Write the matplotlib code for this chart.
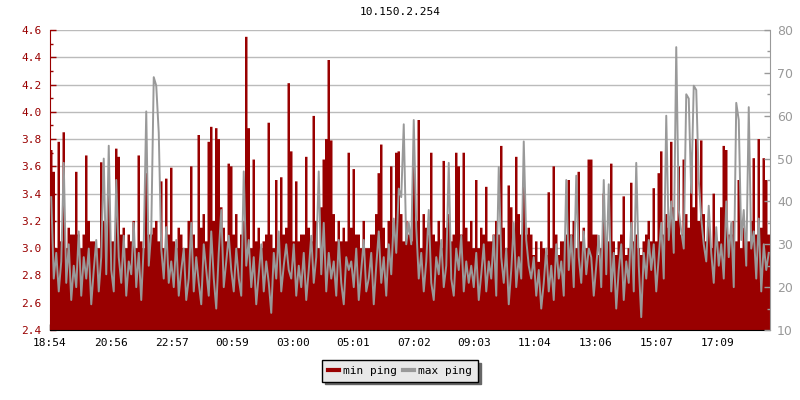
import numpy as np
import matplotlib
matplotlib.use("Agg")
import matplotlib.pyplot as plt

TITLE = "10.150.2.254"
STEP_MIN = 5          # one sample every 5 minutes, 24 h shown
SPAN_MIN = 1440

# min ping (ms, left axis) -- one row per ~2 h block
min_ping = [
    3.72, 3.56, 3.00, 3.78, 3.05, 3.85, 3.00, 3.15, 3.10, 3.10, 3.56, 3.10,
    3.00, 3.10, 3.68, 3.20, 3.05, 3.05, 3.00, 3.00, 3.63, 3.20, 3.10, 3.45,
    3.05, 3.05, 3.73, 3.67, 3.10, 3.15, 3.00, 3.10, 3.05, 3.20, 3.00, 3.68,
    3.05, 3.00, 3.55, 3.10, 3.10, 3.15, 3.20, 3.05, 3.49, 3.00, 3.51, 3.10,
    3.59, 3.05, 3.00, 3.15, 3.10, 3.00, 3.00, 3.20, 3.60, 3.10, 3.00, 3.83,
    3.15, 3.25, 3.05, 3.78, 3.89, 3.20, 3.88, 3.80, 3.30, 3.15, 3.05, 3.62,
    3.60, 3.10, 3.25, 3.00, 3.10, 3.20, 4.55, 3.88, 3.00, 3.65, 3.05, 3.15,
    3.00, 3.05, 3.10, 3.92, 3.10, 3.00, 3.50, 3.00, 3.52, 3.10, 3.15, 4.21,
    3.71, 3.05, 3.49, 3.05, 3.10, 3.10, 3.67, 3.15, 3.05, 3.97, 3.20, 3.00,
    3.30, 3.65, 3.80, 4.38, 3.79, 3.25, 3.05, 3.20, 3.05, 3.15, 3.05, 3.70,
    3.15, 3.58, 3.10, 3.10, 3.00, 3.20, 3.00, 3.00, 3.10, 3.10, 3.25, 3.55,
    3.76, 3.15, 3.00, 3.20, 3.60, 3.10, 3.70, 3.71, 3.25, 3.05, 3.20, 3.10,
    3.05, 3.60, 3.20, 3.94, 3.00, 3.25, 3.15, 3.10, 3.70, 3.10, 3.05, 3.20,
    3.00, 3.64, 3.15, 3.25, 3.05, 3.10, 3.70, 3.60, 3.10, 3.70, 3.15, 3.05,
    3.20, 3.00, 3.50, 3.00, 3.15, 3.10, 3.45, 3.05, 3.05, 3.10, 3.20, 3.10,
    3.75, 3.15, 3.00, 3.46, 3.30, 3.05, 3.67, 3.25, 3.10, 3.45, 3.10, 3.15,
    3.10, 2.95, 3.05, 2.90, 3.05, 3.00, 2.95, 3.41, 3.00, 3.60, 3.10, 2.95,
    3.05, 3.05, 3.10, 3.50, 3.10, 3.20, 3.00, 3.56, 3.05, 3.15, 3.00, 3.65,
    3.65, 3.10, 3.10, 2.95, 3.00, 3.40, 3.00, 3.05, 3.62, 3.05, 2.95, 3.05,
    3.10, 3.38, 2.95, 3.00, 3.48, 3.05, 3.10, 3.00, 2.95, 3.05, 3.10, 3.20,
    3.05, 3.44, 3.05, 3.55, 3.71, 3.10, 3.25, 3.15, 3.78, 3.30, 3.20, 3.60,
    3.10, 3.65, 3.25, 3.15, 3.70, 3.30, 3.80, 3.20, 3.79, 3.25, 3.05, 3.20,
    3.00, 3.40, 3.05, 3.05, 3.30, 3.75, 3.72, 3.10, 3.10, 3.20, 3.05, 3.50,
    3.00, 3.15, 3.05, 3.05, 3.20, 3.66, 3.10, 3.80, 3.15, 3.66, 3.50, 3.10,
]

# max ping (ms, right axis)
max_ping = [
    41, 22, 28, 19, 26, 49, 21, 30, 17, 25, 20, 33,
    18, 27, 22, 29, 16, 24, 31, 19, 27, 50, 23, 53,
    24, 19, 45, 27, 21, 32, 18, 26, 23, 35, 20, 28,
    17, 30, 61, 25, 33, 69, 67, 56, 29, 22, 34, 21,
    26, 20, 31, 18, 24, 29, 17, 22, 35, 19, 27, 21,
    16, 30, 24, 18, 33, 22, 15, 28, 38, 20, 26, 32,
    24, 19, 29, 22, 18, 47, 25, 31, 20, 27, 16, 23,
    30, 19, 26, 21, 14, 28, 22, 33, 19, 25, 30, 24,
    22, 30, 18, 25, 20, 28, 17, 24, 32, 21, 27, 47,
    23, 35, 19, 28, 22, 26, 18, 31, 21, 16, 27, 24,
    26, 20, 29, 17, 24, 31, 19, 22, 28, 16, 25, 33,
    21, 27, 18, 30, 23, 36, 28, 43, 41, 58, 30, 35,
    30, 59, 34, 22, 28, 19, 26, 38, 21, 17, 27, 23,
    31, 20, 25, 49, 22, 18, 29, 24, 32, 19, 26, 21,
    25, 20, 28, 17, 23, 30, 19, 26, 22, 32, 18, 48,
    27, 21, 29, 16, 24, 35, 20, 27, 22, 54, 31, 25,
    22, 27, 18, 24, 15, 21, 29, 19, 25, 17, 30, 22,
    26, 18, 45, 24, 32, 20, 46, 27, 21, 33, 23, 29,
    27, 18, 25, 32, 20, 45, 23, 44, 19, 28, 15, 24,
    30, 17, 26, 21, 35, 19, 49, 25, 13, 28, 22, 31,
    24, 30, 19, 27, 35, 22, 60, 31, 40, 28, 76, 38,
    33, 29, 65, 64, 42, 67, 66, 45, 36, 30, 26, 39,
    28, 21, 34, 25, 30, 22, 40, 27, 35, 20, 63, 59,
    31, 38, 25, 62, 29, 33, 22, 36, 19, 30, 24, 28,
]

tick_labels = ["18:54", "20:56", "22:57", "00:59", "03:00", "05:01",
               "07:02", "09:03", "11:04", "13:06", "15:07", "17:09"]

RED = "#990000"
GREY = "#999999"
MONO = "DejaVu Sans Mono"


def _minutes_from_start(labels):
    h0, m0 = map(int, labels[0].split(":"))
    start = h0 * 60 + m0
    out = []
    for lab in labels:
        h, m = map(int, lab.split(":"))
        out.append((h * 60 + m - start) % SPAN_MIN)
    return out


fig = plt.figure(figsize=(8, 4), dpi=100)
fig.patch.set_facecolor("white")
ax = fig.add_axes([50 / 800, 70 / 400, 720 / 800, 300 / 400])
ax2 = ax.twinx()

x = np.arange(len(min_ping)) * STEP_MIN
xe = np.append(x, SPAN_MIN)
ye = np.append(min_ping, min_ping[-1])
ax.fill_between(xe, 0, ye, step="post", color=RED, linewidth=0,
                zorder=1)
ax2.plot(x + STEP_MIN / 2, max_ping, color=GREY, linewidth=1.4,
         zorder=3)

ax.set_xlim(0, SPAN_MIN)
ax.set_ylim(2.4, 4.6)
ax2.set_ylim(10, 80)

# grid on the left-axis majors, behind the data
ax.set_axisbelow(True)
ax.grid(axis="y", color="#bbbbbb", linewidth=1.0, zorder=0)
ax.grid(axis="x", visible=False)

ax.set_yticks(np.round(np.arange(2.4, 4.61, 0.2), 1))
ax.set_yticks(np.round(np.arange(2.4, 4.61, 0.1), 1), minor=True)
ax.yaxis.set_major_formatter(matplotlib.ticker.FormatStrFormatter("%.1f"))
ax.set_xticks(_minutes_from_start(tick_labels))
ax.set_xticklabels(tick_labels)
ax2.set_yticks(np.arange(10, 81, 10))
ax2.set_yticks(np.arange(10, 81, 5), minor=True)

ax.tick_params(axis="y", which="major", direction="in", length=4,
               width=1, color=RED, labelcolor=RED, labelsize=8, pad=6)
ax.tick_params(axis="y", which="minor", direction="in", length=2,
               width=1, color=RED)
ax.tick_params(axis="x", direction="in", length=4, width=1,
               color="black", labelsize=8, pad=6)
ax2.tick_params(axis="y", which="major", direction="in", length=4,
                width=1, color=GREY, labelcolor=GREY, labelsize=9, pad=5)
ax2.tick_params(axis="y", which="minor", direction="in", length=2,
                width=1, color=GREY)

for lab in ax.get_yticklabels() + ax.get_xticklabels():
    lab.set_fontfamily(MONO)

for a in (ax, ax2):
    a.spines["top"].set_visible(False)
ax.spines["left"].set_color(RED)
ax.spines["bottom"].set_color("black")
ax.spines["right"].set_visible(False)
ax2.spines["left"].set_visible(False)
ax2.spines["bottom"].set_visible(False)
ax2.spines["right"].set_color(GREY)

fig.text(0.5, 1 - 12 / 400, TITLE, ha="center", va="center",
         fontsize=8, family=MONO, color="black")

handles = [plt.Line2D([], [], color=RED, linewidth=3),
           plt.Line2D([], [], color=GREY, linewidth=3)]
leg = fig.legend(handles, ["min ping", "max ping"], loc="center",
                 bbox_to_anchor=(400 / 800, 1 - 371 / 400), ncol=2,
                 frameon=True, fancybox=False, handlelength=1.0,
                 handletextpad=0.4, columnspacing=0.5, borderpad=0.5,
                 prop={"family": MONO, "size": 8},
                 shadow={"facecolor": "#666666", "edgecolor": "#666666",
                         "alpha": 1})
leg.get_frame().set_facecolor("#e8e8e8")
leg.get_frame().set_edgecolor("black")
leg.get_frame().set_linewidth(1.0)

fig.savefig("out.png", dpi=100)
